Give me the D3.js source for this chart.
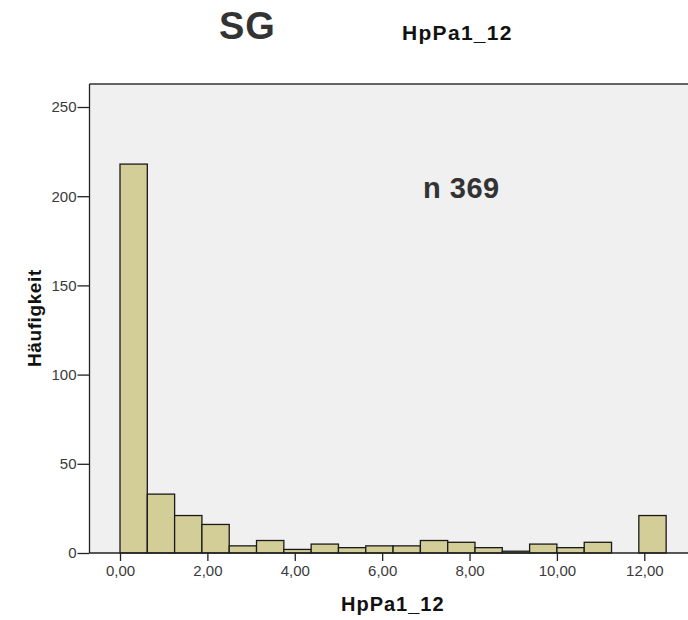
<!DOCTYPE html>
<html>
  <head>
    <meta charset="utf-8">
    <style type="text/css">
      body { margin: 0; background: #fff; }
      text { font-family: "Liberation Sans", Arial, sans-serif; }
      .bar { fill: #d3ce98; stroke: #1a1a1a; stroke-width: 1.3; }
    </style>
  </head>
  <body>
    <div id="chart"></div>
    <script src="https://cdnjs.cloudflare.com/ajax/libs/d3/7.8.5/d3.min.js"></script>
    <script>
      // histogram bins (width 0.625) and counts
      const binWidth = 0.625;
      const binStarts = d3.range(20).map((i) => i * binWidth);
      const counts = [218, 33, 21, 16, 4, 7, 2, 5, 3, 4, 4, 7, 6, 3, 1, 5, 3, 6, 0, 21];
      const xTicks = [0, 2, 4, 6, 8, 10, 12];
      const yTicks = [0, 50, 100, 150, 200, 250];

      const width = 688, height = 620;
      const svg = d3.select("#chart").append("svg")
        .attr("width", width)
        .attr("height", height);

      const x = d3.scaleLinear().domain([0, 12]).range([120, 644.3]);
      const y = d3.scaleLinear().domain([0, 250]).range([553, 107]);

      const plotLeft = 89.5, plotTop = 84, plotBottom = 553;

      // plot area
      svg.append("rect")
        .attr("x", plotLeft).attr("y", plotTop)
        .attr("width", width - plotLeft + 5).attr("height", plotBottom - plotTop)
        .attr("fill", "#f0f0f0");
      svg.append("line")
        .attr("x1", plotLeft).attr("x2", width).attr("y1", plotTop).attr("y2", plotTop)
        .attr("stroke", "#333").attr("stroke-width", 1.5);

      // bars
      const bars = binStarts.map((s, i) => ({start: s, count: counts[i]})).filter((d) => d.count > 0);
      svg.selectAll("rect.bar").data(bars).enter().append("rect")
        .attr("class", "bar")
        .attr("x", (d) => x(d.start))
        .attr("width", (d) => x(d.start + binWidth) - x(d.start))
        .attr("y", (d) => y(d.count))
        .attr("height", (d) => y(0) - y(d.count));

      // axes
      const fmt = (d) => d.toFixed(2).replace(".", ",");
      const xAxis = svg.append("g")
        .attr("transform", `translate(0,${plotBottom})`)
        .call(d3.axisBottom(x).tickValues(xTicks).tickFormat(fmt).tickSize(8).tickPadding(4));
      xAxis.select(".domain").remove();
      svg.append("line")
        .attr("x1", plotLeft).attr("x2", width).attr("y1", plotBottom).attr("y2", plotBottom)
        .attr("stroke", "#222").attr("stroke-width", 1.3);

      const yAxis = svg.append("g")
        .attr("transform", `translate(${plotLeft},0)`)
        .call(d3.axisLeft(y).tickValues(yTicks).tickSize(12).tickPadding(1));
      yAxis.select(".domain").remove();
      svg.append("line")
        .attr("x1", plotLeft).attr("x2", plotLeft).attr("y1", plotTop).attr("y2", plotBottom)
        .attr("stroke", "#222").attr("stroke-width", 1.3);

      svg.selectAll(".tick line").attr("stroke", "#222").attr("stroke-width", 1.3);
      svg.selectAll(".tick text")
        .attr("fill", "#3a3a3a")
        .style("font-size", "15px")
        .style("font-family", "'Liberation Sans', Arial, sans-serif");

      // labels
      svg.append("text")
        .attr("x", 341).attr("y", 611)
        .attr("font-weight", "bold").attr("font-size", 20)
        .attr("letter-spacing", 1)
        .attr("fill", "#111")
        .text("HpPa1_12");

      svg.append("text")
        .attr("transform", "translate(41,367) rotate(-90)")
        .attr("font-weight", "bold").attr("font-size", 19)
        .attr("letter-spacing", 0.6)
        .attr("fill", "#111")
        .text("Häufigkeit");

      svg.append("text")
        .attr("x", 219).attr("y", 38.5)
        .attr("font-weight", "bold").attr("font-size", 38)
        .attr("letter-spacing", 1)
        .attr("fill", "#333")
        .text("SG");

      svg.append("text")
        .attr("x", 402).attr("y", 40)
        .attr("font-weight", "bold").attr("font-size", 21)
        .attr("letter-spacing", 1.3)
        .attr("fill", "#111")
        .text("HpPa1_12");

      svg.append("text")
        .attr("x", 423).attr("y", 198)
        .attr("font-weight", "bold").attr("font-size", 29)
        .attr("letter-spacing", 0.5)
        .attr("fill", "#333")
        .text("n 369");
    </script>
  </body>
</html>
